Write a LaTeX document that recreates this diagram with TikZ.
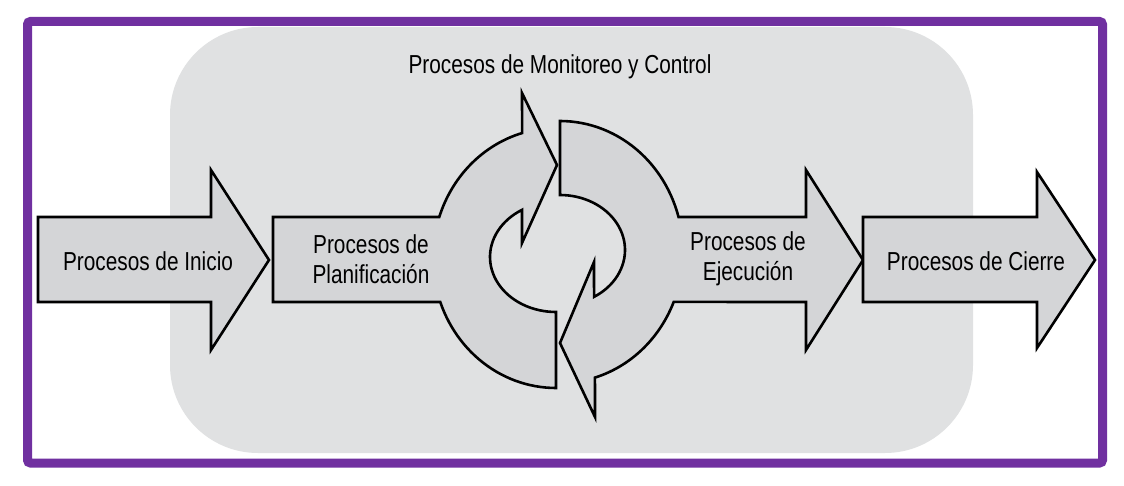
\documentclass[tikz,border=0pt]{standalone}
\usepackage{fontspec}
\newfontfamily\narrowsans{Liberation Sans}[FakeStretch=0.8]
\definecolor{framepurple}{HTML}{7030A0}
\definecolor{bggray}{HTML}{E0E1E2}
\definecolor{arrowgray}{HTML}{D4D5D7}
\begin{document}
\begin{tikzpicture}[x=1pt,y=-1pt,
  arrowshape/.style={fill=arrowgray,draw=black,line width=2.6pt,line join=miter},
  lbl/.style={font=\narrowsans\fontsize{26}{30}\selectfont,align=center,inner sep=0pt,text=black}]
\useasboundingbox (0,0) rectangle (1124,486);
\fill[white] (0,0) rectangle (1124,486);
% frame and background
\draw[framepurple,line width=9pt,rounded corners=3pt] (27.5,21.5) rectangle (1102.5,463);
\fill[bggray,rounded corners=88pt] (170,27) rectangle (973,453);
% Inicio arrow
\draw[arrowshape] (38,217) -- (211,217) -- (211,170) -- (269,260) -- (211,350) -- (211,302) -- (38,302) -- cycle;
% Planificacion arrow + left ring half
\draw[arrowshape] (273,217)
  -- plot[domain=198.4:254,samples=40,variable=\t] ({556+123*cos(\t)},{258+130*sin(\t)})
  -- (522,93) -- (557,165) -- (522,243)
  -- plot[domain=239:90,samples=40,variable=\t] ({556+66*cos(\t)},{257+55*sin(\t)})
  -- (556,387)
  -- plot[domain=90:160.2,samples=30,variable=\t] ({556+123*cos(\t)},{258+130*sin(\t)})
  -- (273,302) -- cycle;
% Ejecucion arrow + right ring half
\draw[arrowshape] (560,121)
  -- plot[domain=270:344.5,samples=30,variable=\t] ({560+123*cos(\t)},{252+131*sin(\t)})
  -- (806,217) -- (806,170) -- (863,260) -- (806,350) -- (806,302)
  -- plot[domain=22.4:73.5,samples=30,variable=\t] ({560+123*cos(\t)},{252+131*sin(\t)})
  -- (595,417) -- (560,343) -- (594,262)
  -- plot[domain=58.4:-90,samples=40,variable=\t] ({560+65*cos(\t)},{250+55*sin(\t)})
  -- cycle;
% Cierre arrow
\draw[arrowshape] (863,217) -- (1037,217) -- (1037,172) -- (1095,260) -- (1037,348) -- (1037,302) -- (863,302) -- cycle;
% labels
\node[lbl] (inicio) at (148,261) {Procesos de Inicio};
\node[lbl] (plan) at (371,259) {Procesos de\\Planificación};
\node[lbl] (ejec) at (748,259) {Procesos de\\Ejecución};
\node[lbl] (cierre) at (976,261) {Procesos de Cierre};
\node[lbl] (monit) at (560,67) {Procesos de Monitoreo y Control};
\end{tikzpicture}
\end{document}
